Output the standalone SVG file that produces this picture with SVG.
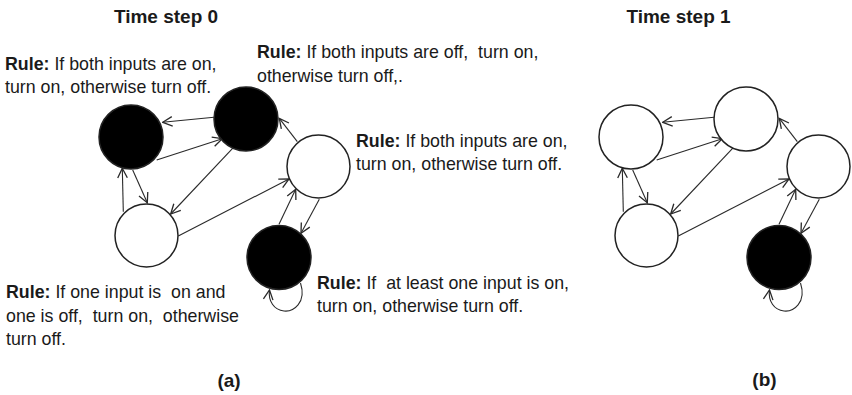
<svg xmlns="http://www.w3.org/2000/svg" width="852" height="395" viewBox="0 0 852 395">
<defs>
<style>
.t{font-family:"Liberation Sans",Arial,sans-serif;font-size:17.8px;fill:#1a1a1a;white-space:pre}
.b{font-weight:bold}
.title{font-family:"Liberation Sans",Arial,sans-serif;font-size:19px;font-weight:bold;fill:#1a1a1a;text-anchor:middle}
.on{fill:#000;stroke:#222;stroke-width:1.5}
.off{fill:#fff;stroke:#222;stroke-width:1.5}
.e{fill:none;stroke:#2a2a2a;stroke-width:1.1;marker-end:url(#ah)}
</style>
<marker id="ah" markerUnits="userSpaceOnUse" markerWidth="12" markerHeight="12" viewBox="0 0 10 10" refX="9" refY="5" orient="auto">
<path d="M1,1 L9,5 L1,9" fill="none" stroke="#2a2a2a" stroke-width="1.1"/>
</marker>
</defs>
<rect width="852" height="395" fill="#fff"/>

<text class="title" x="166" y="23">Time step 0</text>
<text class="title" x="678.5" y="23">Time step 1</text>

<!-- Panel (a) connectors -->
<g id="connectors-a">
<line class="e" x1="214" y1="117.3" x2="162.7" y2="122.3"/>
<line class="e" x1="156.7" y1="160" x2="222.3" y2="138.7"/>
<line class="e" x1="123.3" y1="211.7" x2="122.3" y2="168.3"/>
<line class="e" x1="132.7" y1="170" x2="147.3" y2="202.7"/>
<line class="e" x1="233.3" y1="147.7" x2="170.7" y2="214"/>
<line class="e" x1="178.3" y1="236" x2="289" y2="179"/>
<line class="e" x1="297.3" y1="141.7" x2="279.3" y2="118.3"/>
<line class="e" x1="279" y1="224.3" x2="295.7" y2="189.3"/>
<line class="e" x1="319.3" y1="199.3" x2="301" y2="233.3"/>
<path class="e" d="M300.5,283 C307,303 293,312 284,311 C274,310 268,301 269.5,290"/>
</g>

<g id="a-node1"><circle class="on" cx="131" cy="137" r="32"/></g>
<g id="a-node2"><circle class="on" cx="246" cy="119" r="32"/></g>
<g id="a-node3"><circle class="off" cx="318.5" cy="166.5" r="31.5"/></g>
<g id="a-node4"><circle class="off" cx="146.5" cy="235.5" r="31.5"/></g>
<g id="a-node5"><circle class="on" cx="279" cy="257.5" r="32"/></g>

<!-- Panel (b) connectors -->
<g id="connectors-b" transform="translate(500,0)">
<line class="e" x1="214" y1="117.3" x2="162.7" y2="122.3"/>
<line class="e" x1="156.7" y1="160" x2="222.3" y2="138.7"/>
<line class="e" x1="123.3" y1="211.7" x2="122.3" y2="168.3"/>
<line class="e" x1="132.7" y1="170" x2="147.3" y2="202.7"/>
<line class="e" x1="233.3" y1="147.7" x2="170.7" y2="214"/>
<line class="e" x1="178.3" y1="236" x2="289" y2="179"/>
<line class="e" x1="297.3" y1="141.7" x2="279.3" y2="118.3"/>
<line class="e" x1="279" y1="224.3" x2="295.7" y2="189.3"/>
<line class="e" x1="319.3" y1="199.3" x2="301" y2="233.3"/>
<path class="e" d="M300.5,283 C307,303 293,312 284,311 C274,310 268,301 269.5,290"/>
</g>

<g id="b-node1"><circle class="off" cx="631" cy="137" r="32"/></g>
<g id="b-node2"><circle class="off" cx="746" cy="119" r="32"/></g>
<g id="b-node3"><circle class="off" cx="818.5" cy="166.5" r="31.5"/></g>
<g id="b-node4"><circle class="off" cx="646.5" cy="235.5" r="31.5"/></g>
<g id="b-node5"><circle class="on" cx="779" cy="257.5" r="32"/></g>

<!-- Rules -->
<g id="rule1">
<text class="t" x="5" y="70"><tspan class="b">Rule:</tspan> If both inputs are on,</text>
<text class="t" x="5" y="93.3">turn on, otherwise turn off.</text>
</g>
<g id="rule2">
<text class="t" x="257" y="58.3"><tspan class="b">Rule:</tspan> If both inputs are off,  turn on,</text>
<text class="t" x="257" y="81.7">otherwise turn off,.</text>
</g>
<g id="rule3">
<text class="t" x="356" y="147"><tspan class="b">Rule:</tspan> If both inputs are on,</text>
<text class="t" x="356" y="170.3">turn on, otherwise turn off.</text>
</g>
<g id="rule4">
<text class="t" x="6" y="298.3"><tspan class="b">Rule:</tspan> If one input is  on and</text>
<text class="t" x="6" y="321.7">one is off,  turn on,  otherwise</text>
<text class="t" x="6" y="345">turn off.</text>
</g>
<g id="rule5">
<text class="t" x="317" y="289"><tspan class="b">Rule:</tspan> If  at least one input is on,</text>
<text class="t" x="317" y="312.3">turn on, otherwise turn off.</text>
</g>

<text class="title" x="229" y="387">(a)</text>
<text class="title" x="764.5" y="386">(b)</text>
</svg>
